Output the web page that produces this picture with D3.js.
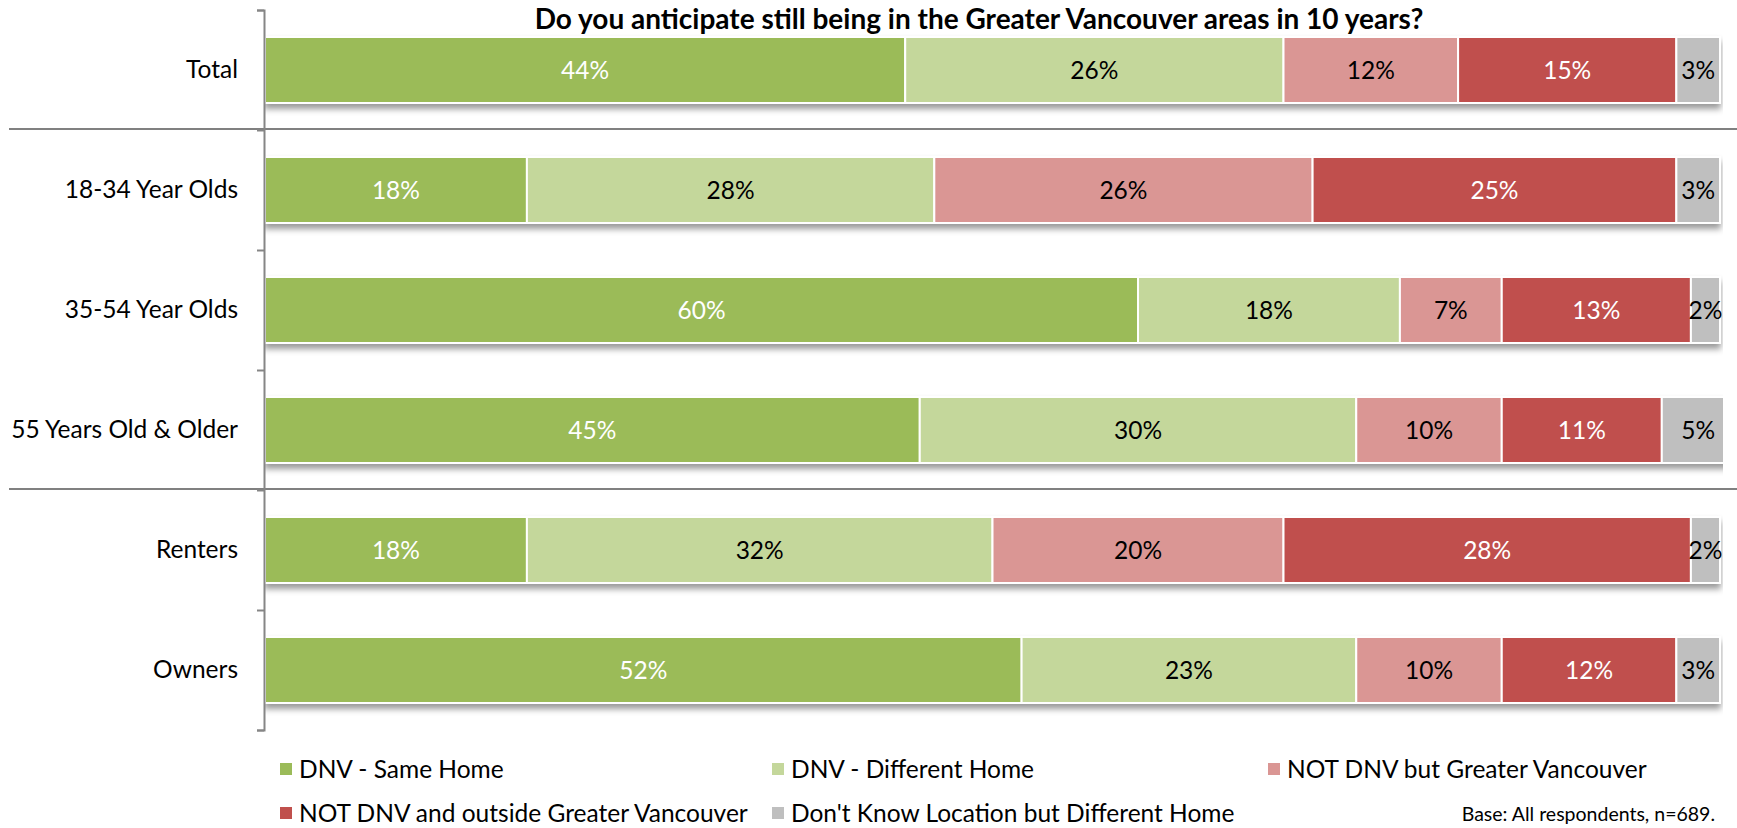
<!DOCTYPE html>
<html>
<head>
<meta charset="utf-8">
<script src="https://cdn.jsdelivr.net/npm/d3@7"></script>
<style>
  html, body { margin: 0; padding: 0; background: #fff; }
  svg { display: block; font-family: Lato, "Open Sans", sans-serif; }
</style>
</head>
<body>
<svg id="chart" width="1737" height="828"></svg>
<script>
// Survey groups (rows, top to bottom)
const categories = ["Total", "18-34 Year Olds", "35-54 Year Olds", "55 Years Old & Older", "Renters", "Owners"];

// Answer options (stack order, left to right)
const seriesNames = [
  "DNV - Same Home",
  "DNV - Different Home",
  "NOT DNV but Greater Vancouver",
  "NOT DNV and outside Greater Vancouver",
  "Don't Know Location but Different Home"
];

// Percentages per group, one array per answer option
const sameHome      = [44, 18, 60, 45, 18, 52];
const differentHome = [26, 28, 18, 30, 32, 23];
const greaterVan    = [12, 26,  7, 10, 20, 10];
const outsideVan    = [15, 25, 13, 11, 28, 12];
const dontKnow      = [ 3,  3,  2,  5,  2,  3];

const seriesColors = ["#9BBB59", "#C4D79B", "#DA9694", "#C0504D", "#BFBFBF"];
const labelColors  = ["#ffffff", "#000000", "#000000", "#ffffff", "#000000"];

// Groups after which a full-width divider is drawn
const dividersAfter = ["Total", "55 Years Old & Older"];

const title = "Do you anticipate still being in the Greater Vancouver areas in 10 years?";
const baseNote = "Base: All respondents, n=689.";

const seriesValues = [sameHome, differentHome, greaterVan, outsideVan, dontKnow];
const rows = categories.map((c, i) => {
  const r = { category: c };
  seriesNames.forEach((s, j) => { r[s] = seriesValues[j][i]; });
  return r;
});
const stacked = d3.stack().keys(seriesNames)(rows);

const svg = d3.select("#chart");
const W = 1737, H = 828;

const x = d3.scaleLinear().domain([0, 100]).range([265, 1720]);
const y = d3.scaleBand().domain(categories).range([10, 730]).paddingInner(0.45).paddingOuter(0.225);
const yEdges = d3.scaleLinear().domain([0, categories.length]).range([10, 730]);

// Soft shadow under each bar
const defs = svg.append("defs");
const f = defs.append("filter").attr("id", "barShadow")
  .attr("x", "-2%").attr("y", "-20%").attr("width", "104%").attr("height", "160%");
f.append("feDropShadow").attr("dx", 0).attr("dy", 5).attr("stdDeviation", 3)
  .attr("flood-color", "#000").attr("flood-opacity", 0.4);

defs.append("clipPath").attr("id", "plotClip")
  .append("rect").attr("x", x(0)).attr("y", 0).attr("width", x(100) - x(0) + 3).attr("height", H);

// Title
svg.append("text")
  .attr("x", 979).attr("y", 29)
  .attr("text-anchor", "middle")
  .attr("font-weight", "bold")
  .attr("font-size", 28)
  .attr("fill", "#000")
  .text(title);

// Stacked bars
const barLayer = svg.append("g").attr("clip-path", "url(#plotClip)");
categories.forEach((cat, i) => {
  const g = barLayer.append("g").attr("filter", "url(#barShadow)");
  stacked.forEach((s, j) => {
    const d = s[i];
    g.append("rect")
      .attr("x", x(d[0]))
      .attr("y", y(cat))
      .attr("width", x(d[1]) - x(d[0]))
      .attr("height", y.bandwidth())
      .attr("fill", seriesColors[j])
      .attr("stroke", "#fff")
      .attr("stroke-width", 2);
  });
});

// Value labels, centred on each segment
const labelLayer = svg.append("g");
categories.forEach((cat, i) => {
  stacked.forEach((s, j) => {
    const d = s[i];
    labelLayer.append("text")
      .attr("x", (x(d[0]) + x(d[1])) / 2)
      .attr("y", y(cat) + y.bandwidth() / 2)
      .attr("dy", "0.35em")
      .attr("text-anchor", "middle")
      .attr("font-size", 24.5)
      .attr("fill", labelColors[j])
      .text(d.data[seriesNames[j]] + "%");
  });
});

// Divider lines between group blocks
dividersAfter.forEach(c => {
  const yy = yEdges(categories.indexOf(c) + 1) - 1;
  svg.append("line")
    .attr("x1", 9).attr("x2", W)
    .attr("y1", yy).attr("y2", yy)
    .attr("stroke", "#808080").attr("stroke-width", 2);
});

// Category axis: line with ticks on group boundaries
const edgeAxis = d3.axisLeft(yEdges).ticks(categories.length).tickFormat("").tickSizeInner(7).tickSizeOuter(7);
const ea = svg.append("g").attr("transform", `translate(${x(0) - 1},0)`).call(edgeAxis);
ea.selectAll("path, line").attr("stroke", "#868686").attr("stroke-width", 2);

const catAxis = d3.axisLeft(y).tickSize(0).tickPadding(26);
const ca = svg.append("g").attr("transform", `translate(${x(0) - 1},0)`).call(catAxis);
ca.select(".domain").remove();
ca.selectAll("text").attr("font-size", 24.5).attr("fill", "#000").attr("font-family", "Lato, 'Open Sans', sans-serif");

// Legend
const legendPos = [
  [280, 769], [772, 769], [1268, 769],
  [280, 813], [772, 813]
];
const legend = svg.append("g");
seriesNames.forEach((name, j) => {
  const [lx, ly] = legendPos[j];
  legend.append("rect")
    .attr("x", lx).attr("y", ly - 6).attr("width", 12).attr("height", 12)
    .attr("fill", seriesColors[j]);
  legend.append("text")
    .attr("x", lx + 19).attr("y", ly).attr("dy", "0.35em")
    .attr("font-size", 24.5).attr("fill", "#000")
    .text(name);
});

svg.append("text")
  .attr("x", 1715).attr("y", 814).attr("dy", "0.35em")
  .attr("text-anchor", "end")
  .attr("font-size", 19.5).attr("fill", "#000")
  .text(baseNote);
</script>
</body>
</html>
